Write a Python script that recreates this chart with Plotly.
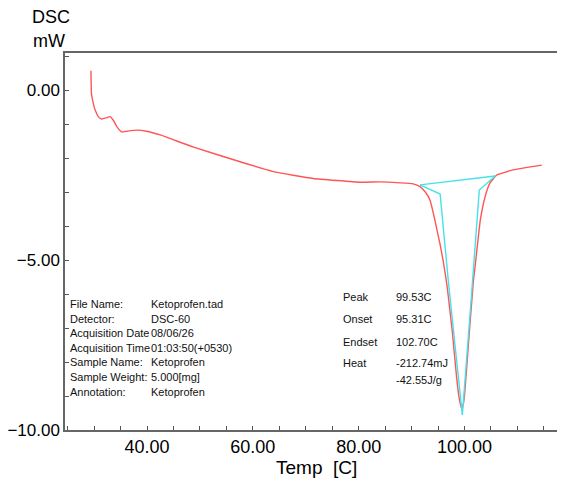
import plotly.graph_objects as go

# DSC curve (temperature in C, heat flow in mW)
temp = [29.4, 29.5, 29.8, 30.2, 30.8, 31.4, 32.25, 33.0, 33.6, 34.4, 35.2, 36.2, 38.1, 39.9,
        42.5, 48.8, 57.6, 63.9, 71.4, 80.3, 84.0, 87.8, 90.3, 91.6, 92.6, 93.5, 94.4, 95.4,
        96.0, 96.7, 97.7, 98.5, 99.0, 99.5, 99.85, 100.1, 100.9, 101.7, 102.0, 103.0, 103.9,
        104.8, 106.1, 109.2, 114.6]
dsc = [0.57, -0.10, -0.36, -0.59, -0.78, -0.85, -0.82, -0.78, -0.88, -1.10, -1.23, -1.21,
       -1.18, -1.21, -1.32, -1.68, -2.11, -2.40, -2.60, -2.71, -2.70, -2.73, -2.76, -2.84,
       -3.00, -3.24, -3.82, -4.55, -5.05, -5.75, -7.10, -8.43, -9.06, -9.38, -9.18, -8.82,
       -7.16, -5.59, -5.20, -3.82, -3.14, -2.74, -2.50, -2.35, -2.21]

# Analysis construction lines (baseline and tangents)
base_t = [91.6, 105.8]
base_y = [-2.79, -2.53]
left_t = [91.6, 95.4, 97.0, 99.6]
left_y = [-2.79, -3.06, -5.70, -9.56]
right_t = [105.8, 102.8, 101.4, 99.6]
right_y = [-2.53, -2.94, -5.88, -9.56]

info_labels = ["File Name:", "Detector:", "Acquisition Date", "Acquisition Time",
               "Sample Name:", "Sample Weight:", "Annotation:"]
info_values = ["Ketoprofen.tad", "DSC-60", "08/06/26", "01:03:50(+0530)",
               "Ketoprofen", "5.000[mg]", "Ketoprofen"]
peak_labels = ["Peak", "Onset", "Endset", "Heat", ""]
peak_values = ["99.53C", "95.31C", "102.70C", "-212.74mJ", "-42.55J/g"]

RED = "rgb(255,85,85)"
CYAN = "rgb(70,225,235)"
FONT = "Liberation Sans, Arial, sans-serif"

fig = go.Figure()
fig.add_trace(go.Scatter(x=temp, y=dsc, mode="lines", line=dict(color=RED, width=1.4, shape="spline", smoothing=0.35),
                         hoverinfo="skip"))
for tx, ty in [(base_t, base_y), (left_t, left_y), (right_t, right_y)]:
    fig.add_trace(go.Scatter(x=tx, y=ty, mode="lines", line=dict(color=CYAN, width=1.4), hoverinfo="skip"))

OFF = 8  # page body margin
L, R, T, B = 65, 565, 53, 430  # target plot box in window pixels
W, H = 565 - OFF, 486 - OFF


def px(x):
    return (x - L) / (R - L)


def py(y):
    return (B - y) / (B - T)


ann = []
info_y = [304, 319, 333, 348, 362, 377, 392]
for lab, val, yy in zip(info_labels, info_values, info_y):
    ann.append(dict(x=px(68), y=py(yy), text=lab, xanchor="left", yanchor="middle"))
    ann.append(dict(x=px(149), y=py(yy), text=val, xanchor="left", yanchor="middle"))
peak_y = [297, 319, 342, 363, 380]
for lab, val, yy in zip(peak_labels, peak_values, peak_y):
    if lab:
        ann.append(dict(x=px(341), y=py(yy), text=lab, xanchor="left", yanchor="middle"))
    ann.append(dict(x=px(394), y=py(yy), text=val, xanchor="left", yanchor="middle"))
for a in ann:
    a.update(xref="paper", yref="paper", showarrow=False, font=dict(family=FONT, size=11, color="#111"))

ann.append(dict(x=px(51), y=py(17), text="DSC", xref="paper", yref="paper", showarrow=False,
                xanchor="center", yanchor="middle", font=dict(family=FONT, size=18, color="#000")))
ann.append(dict(x=px(49), y=py(41), text="mW", xref="paper", yref="paper", showarrow=False,
                xanchor="center", yanchor="middle", font=dict(family=FONT, size=18, color="#000")))
ann.append(dict(x=px(316), y=py(467), text="Temp\u00a0 [C]", xref="paper", yref="paper", showarrow=False,
                xanchor="center", yanchor="middle", font=dict(family=FONT, size=19, color="#000")))

fig.update_layout(
    width=W, height=H,
    margin=dict(l=L - OFF, r=0, t=T - OFF, b=486 - B, pad=0, autoexpand=False),
    paper_bgcolor="white", plot_bgcolor="white",
    showlegend=False,
    annotations=ann,
    xaxis=dict(range=[24.5, 119.0], tick0=0, dtick=20, tickformat=".2f", automargin=False,
               ticks="inside", ticklen=4, tickcolor="#555",
               showline=True, linecolor="#666", linewidth=1.5, mirror=True,
               showgrid=False, zeroline=False,
               tickfont=dict(family=FONT, size=18, color="#000"),
               minor=dict(dtick=5, tick0=0, ticks="inside", ticklen=4, tickcolor="#555", showgrid=False)),
    yaxis=dict(range=[-10.0, 1.09], tick0=0, dtick=5, tickformat=".2f", automargin=False,
               ticks="inside", ticklen=4, tickcolor="#555",
               showline=True, linecolor="#666", linewidth=1.5,
               showgrid=False, zeroline=False,
               tickfont=dict(family=FONT, size=17, color="#000"),
               minor=dict(dtick=1, tick0=0, ticks="inside", ticklen=4, tickcolor="#555", showgrid=False)),
)

fig.write_html("out.html")
